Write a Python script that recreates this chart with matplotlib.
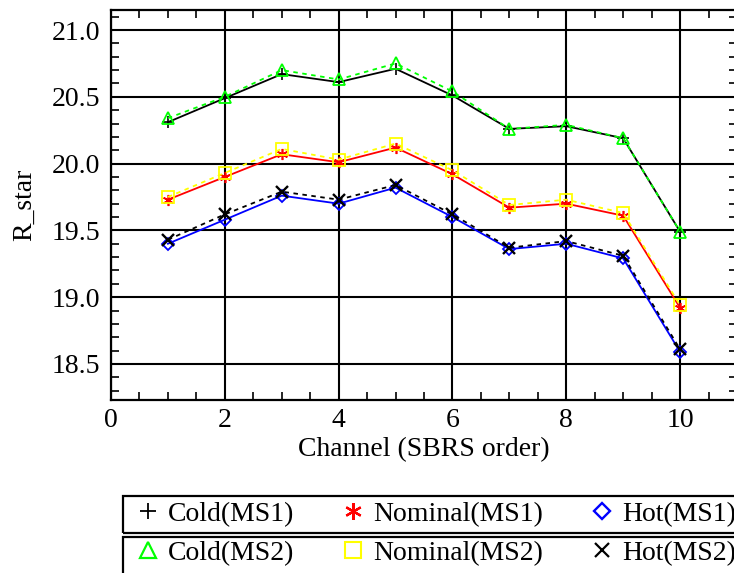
import matplotlib
matplotlib.use("Agg")
import matplotlib.pyplot as plt
from matplotlib.lines import Line2D
from matplotlib.patches import Rectangle
from matplotlib.ticker import MultipleLocator

plt.rcParams['font.family'] = ['Liberation Serif', 'DejaVu Serif']

# --- data ---
channel = [1, 2, 3, 4, 5, 6, 7, 8, 9, 10]
cold_ms1 = [20.31, 20.49, 20.67, 20.61, 20.71, 20.51, 20.26, 20.28, 20.19, 19.49]
cold_ms2 = [20.34, 20.50, 20.70, 20.63, 20.75, 20.54, 20.26, 20.29, 20.19, 19.49]
nominal_ms1 = [19.73, 19.90, 20.07, 20.01, 20.12, 19.92, 19.67, 19.70, 19.61, 18.92]
nominal_ms2 = [19.75, 19.93, 20.11, 20.03, 20.15, 19.95, 19.69, 19.73, 19.63, 18.94]
hot_ms1 = [19.40, 19.58, 19.76, 19.70, 19.82, 19.60, 19.36, 19.40, 19.29, 18.59]
hot_ms2 = [19.43, 19.62, 19.79, 19.73, 19.84, 19.62, 19.37, 19.42, 19.31, 18.61]

labels_ms1 = ['Cold(MS1)', 'Nominal(MS1)', 'Hot(MS1)']
labels_ms2 = ['Cold(MS2)', 'Nominal(MS2)', 'Hot(MS2)']

W, H = 734, 573
FS = 20
STAR = (6, 2, 0)


def fx(px):
    return px / W


def fy(py):
    return 1 - py / H


fig = plt.figure(figsize=(W / 100, H / 100), dpi=100)
ax = fig.add_axes([fx(111), fy(400), fx(737) - fx(111), fy(10) - fy(400)])

# MS1: solid lines
ax.plot(channel, cold_ms1, color='black', lw=1.3, marker='+', ms=8, mew=1.2, zorder=3)
ax.plot(channel, nominal_ms1, color='red', lw=1.3, marker=STAR, ms=8, mew=1.2, zorder=3)
ax.plot(channel, hot_ms1, color='blue', lw=1.3, marker='D', ms=6, mfc='none', mew=1.3, zorder=3)

# MS2: dashed lines on top
ax.plot(channel, cold_ms2, color='#00ff00', lw=1.3, dashes=(2.5, 2.5), marker='^', ms=8,
        mfc='none', mew=1.3, zorder=4)
ax.plot(channel, nominal_ms2, color='#ffff00', lw=1.3, dashes=(2.5, 2.5), marker='s', ms=8,
        mfc='none', mew=1.3, zorder=4)
ax.plot(channel, hot_ms2, color='black', lw=1.3, dashes=(2.5, 2.5), marker='x', ms=8,
        mew=1.7, zorder=4)

ax.set_xlim(0, 11)
ax.set_ylim(18.23, 21.15)
ax.xaxis.set_major_locator(MultipleLocator(2))
ax.xaxis.set_minor_locator(MultipleLocator(0.5))
ax.yaxis.set_major_locator(MultipleLocator(0.5))
ax.yaxis.set_minor_locator(MultipleLocator(0.1))
ax.yaxis.set_major_formatter(matplotlib.ticker.FormatStrFormatter('%.1f'))

ax.grid(True, which='major', color='black', lw=1.5)
ax.tick_params(which='major', length=0, labelsize=FS)
ax.tick_params(axis='x', which='major', pad=6)
ax.tick_params(axis='y', which='major', pad=8)
ax.tick_params(which='minor', direction='in', length=6, width=1.2,
               top=True, right=True, color='black')
for s in ax.spines.values():
    s.set_linewidth(1.6)

ax.set_xlabel('Channel (SBRS order)', fontsize=FS, labelpad=3)
ax.set_ylabel('R_star', fontsize=FS, labelpad=10)

# --- legend: two stacked boxes, one row each ---
h1 = [Line2D([], [], ls='none', color='black', marker='+', ms=12, mew=1.3),
      Line2D([], [], ls='none', color='red', marker=STAR, ms=12, mew=1.6),
      Line2D([], [], ls='none', color='blue', marker='D', ms=8, mfc='none', mew=1.7)]
h2 = [Line2D([], [], ls='none', color='#00ff00', marker='^', ms=11, mfc='none', mew=1.6),
      Line2D([], [], ls='none', color='#ffff00', marker='s', ms=11, mfc='none', mew=1.5),
      Line2D([], [], ls='none', color='black', marker='x', ms=10, mew=1.6)]

for top, bottom in [(496, 533), (537, 590)]:
    fig.patches.append(Rectangle((fx(123), fy(bottom)), fx(800) - fx(123),
                                 fy(top) - fy(bottom), transform=fig.transFigure,
                                 fill=False, ec='black', lw=1.6))

leg_kw = dict(ncol=3, loc='center left', frameon=False, fontsize=FS,
              handlelength=1.0, handletextpad=0.22, columnspacing=1.62,
              borderpad=0, borderaxespad=0)
fig.legend(h1, labels_ms1, bbox_to_anchor=(fx(134), fy(514)), **leg_kw)
fig.legend(h2, labels_ms2, bbox_to_anchor=(fx(134), fy(553)), **leg_kw)

fig.savefig('out.png', dpi=100)
